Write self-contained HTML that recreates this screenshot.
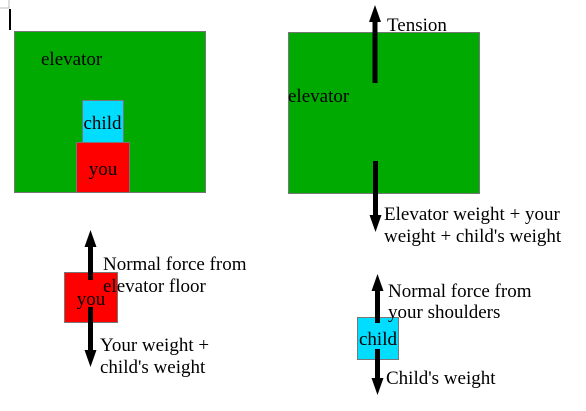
<!DOCTYPE html>
<html><head><meta charset="utf-8"><style>
body{margin:0;background:#fff;}
svg text{font-family:"Liberation Serif",serif;font-size:19px;fill:#000;}
</style></head><body>
<svg width="586" height="406" xmlns="http://www.w3.org/2000/svg">
<path d="M0 8H9V0" fill="none" stroke="#bbb" stroke-width="1"/>
<rect x="9" y="9" width="2" height="21" fill="#000"/>
<rect x="14.5" y="31.5" width="191" height="161" fill="#00aa00" stroke="#777"/>
<text x="41" y="65">elevator</text>
<rect x="82.5" y="100.5" width="41" height="42" fill="#00ddff" stroke="#777"/>
<text x="102.5" y="129" text-anchor="middle">child</text>
<rect x="76.5" y="142.5" width="53" height="50" fill="#ff0000" stroke="#777"/>
<text x="103" y="175" text-anchor="middle">you</text>

<rect x="288.5" y="32.5" width="191" height="161" fill="#00aa00" stroke="#777"/>
<text x="288" y="102">elevator</text>
<g fill="#000">
<rect x="372.5" y="18" width="5" height="65"/><polygon points="375,5 369,22 381,22"/>
<rect x="373" y="161" width="5" height="60"/><polygon points="375.5,232 369.5,215 381.5,215"/>
<rect x="88" y="243" width="5" height="37"/><polygon points="90.5,230 84.5,247 96.5,247"/>
<rect x="88" y="307" width="5" height="48"/><polygon points="90.5,367 84.5,350 96.5,350"/>
</g>
<text x="387" y="31">Tension</text>
<text x="384" y="220">Elevator weight + your</text>
<text x="384" y="242">weight + child's weight</text>

<rect x="64.5" y="272.5" width="53" height="50" fill="#ff0000" stroke="#777"/>
<text x="91" y="305" text-anchor="middle">you</text>
<g fill="#000">
<rect x="88" y="243" width="5" height="37"/>
<rect x="88" y="307" width="5" height="48"/>
</g>
<text x="103" y="270">Normal force from</text>
<text x="103" y="292">elevator floor</text>
<text x="100" y="351">Your weight +</text>
<text x="100" y="373">child's weight</text>

<rect x="357.5" y="317.5" width="41" height="42" fill="#00ddff" stroke="#777"/>
<text x="378" y="345" text-anchor="middle">child</text>
<g fill="#000">
<rect x="375" y="287" width="5" height="36"/><polygon points="377.5,274 371.5,291 383.5,291"/>
<rect x="375" y="349" width="5" height="34"/><polygon points="377.5,395 371.5,378 383.5,378"/>
</g>
<text x="388" y="297">Normal force from</text>
<text x="388" y="318">your shoulders</text>
<text x="386" y="384">Child's weight</text>
</svg>
</body></html>
